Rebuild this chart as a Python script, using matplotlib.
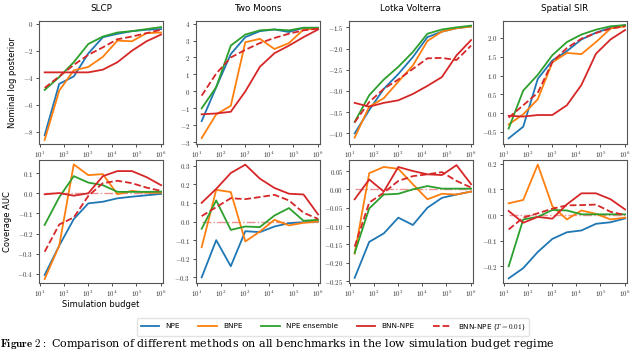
import numpy as np
import matplotlib
matplotlib.use('Agg')
import matplotlib.pyplot as plt
from matplotlib.ticker import FuncFormatter, FixedLocator

plt.rcParams['mathtext.fontset'] = 'cm'
plt.rcParams['font.family'] = 'DejaVu Sans'

# simulation budgets (one point per budget)
budgets = [16, 64, 256, 1024, 4096, 16384, 65536, 262144, 1048576]

benchmarks = ['SLCP', 'Two Moons', 'Lotka Volterra', 'Spatial SIR']
methods = ['NPE', 'BNPE', 'NPE ensemble', 'BNN-NPE', 'BNN-NPE ($T = 0.01$)']

# nominal log posterior, per benchmark
slcp_logp = {
    'NPE':          [-8.25, -4.45, -3.9, -2.2, -1.0, -0.75, -0.55, -0.45, -0.4],
    'BNPE':         [-8.6, -4.95, -3.45, -3.2, -2.45, -1.25, -1.3, -0.7, -0.65],
    'NPE ensemble': [-4.9, -3.95, -2.85, -1.5, -0.95, -0.65, -0.55, -0.4, -0.25],
    'BNN-NPE':      [-3.6, -3.6, -3.6, -3.6, -3.4, -2.85, -2.0, -1.3, -0.8],
    'BNN-NPE T':    [-4.75, -3.9, -3.05, -2.3, -1.75, -1.15, -0.95, -0.7, -0.45],
}
moons_logp = {
    'NPE':          [-1.75, 0.25, 2.2, 3.2, 3.55, 3.65, 3.5, 3.75, 3.75],
    'BNPE':         [-2.75, -1.35, -0.85, 2.9, 3.1, 2.5, 2.85, 3.65, 3.7],
    'NPE ensemble': [-1.0, 0.25, 2.7, 3.35, 3.6, 3.65, 3.6, 3.75, 3.75],
    'BNN-NPE':      [-1.35, -1.3, -1.2, 0.0, 1.45, 2.25, 2.7, 3.2, 3.65],
    'BNN-NPE T':    [-0.25, 1.05, 2.0, 2.45, 2.85, 3.15, 3.4, 3.6, 3.7],
}
lotka_logp = {
    'NPE':          [-4.0, -3.45, -2.95, -2.6, -2.2, -1.73, -1.6, -1.52, -1.48],
    'BNPE':         [-4.1, -3.37, -3.17, -2.78, -2.4, -1.82, -1.6, -1.52, -1.48],
    'NPE ensemble': [-3.73, -3.1, -2.73, -2.43, -2.08, -1.65, -1.55, -1.5, -1.46],
    'BNN-NPE':      [-3.28, -3.37, -3.28, -3.22, -3.07, -2.88, -2.67, -2.16, -1.8],
    'BNN-NPE T':    [-3.74, -3.26, -2.95, -2.73, -2.48, -2.23, -2.22, -2.27, -1.93],
}
sir_logp = {
    'NPE':          [-0.67, -0.36, 0.91, 1.4, 1.65, 1.96, 2.14, 2.27, 2.34],
    'BNPE':         [-0.3, -0.03, 0.37, 1.35, 1.6, 1.57, 1.89, 2.25, 2.31],
    'NPE ensemble': [-0.41, 0.6, 1.02, 1.54, 1.89, 2.09, 2.22, 2.31, 2.34],
    'BNN-NPE':      [-0.07, -0.09, -0.05, -0.05, 0.21, 0.75, 1.58, 1.96, 2.21],
    'BNN-NPE T':    [-0.12, 0.21, 0.54, 1.36, 1.73, 1.98, 2.13, 2.25, 2.31],
}

# coverage AUC, per benchmark
slcp_auc = {
    'NPE':          [-0.405, -0.26, -0.128, -0.05, -0.042, -0.025, -0.017, -0.01, -0.003],
    'BNPE':         [-0.425, -0.26, 0.143, 0.09, 0.095, -0.005, 0.012, 0.003, 0.003],
    'NPE ensemble': [-0.157, -0.02, 0.085, 0.053, 0.04, 0.007, 0.007, 0.007, 0.008],
    'BNN-NPE':      [-0.005, 0.001, -0.012, 0.0, 0.085, 0.11, 0.11, 0.08, 0.04],
    'BNN-NPE T':    [-0.29, -0.155, -0.12, -0.013, 0.05, 0.062, 0.05, 0.028, 0.012],
}
moons_auc = {
    'NPE':          [-0.3, -0.1, -0.24, -0.052, -0.057, -0.027, -0.009, -0.004, 0.0],
    'BNPE':         [-0.138, 0.17, 0.158, -0.107, -0.054, 0.009, -0.021, -0.007, 0.0],
    'NPE ensemble': [-0.039, 0.113, -0.045, -0.027, -0.03, 0.032, 0.072, 0.004, 0.009],
    'BNN-NPE':      [0.1, 0.175, 0.26, 0.305, 0.23, 0.18, 0.149, 0.145, 0.038],
    'BNN-NPE T':    [0.029, 0.077, 0.125, 0.12, 0.131, 0.143, 0.113, 0.047, 0.014],
}
lotka_auc = {
    'NPE':          [-0.241, -0.143, -0.12, -0.077, -0.097, -0.05, -0.023, -0.014, -0.006],
    'BNPE':         [-0.175, 0.044, 0.061, 0.056, 0.014, -0.027, -0.012, -0.014, -0.006],
    'NPE ensemble': [-0.173, -0.052, -0.014, -0.012, 0.0, 0.009, 0.002, 0.002, 0.002],
    'BNN-NPE':      [-0.027, 0.027, -0.006, 0.061, 0.05, 0.041, 0.039, 0.066, 0.014],
    'BNN-NPE T':    [-0.156, -0.036, -0.009, 0.023, 0.036, 0.041, 0.047, 0.023, 0.005],
}
sir_auc = {
    'NPE':          [-0.247, -0.207, -0.144, -0.093, -0.067, -0.06, -0.034, -0.028, -0.013],
    'BNPE':         [0.046, 0.059, 0.197, 0.035, -0.017, 0.018, 0.005, -0.017, -0.01],
    'NPE ensemble': [-0.2, -0.017, -0.007, 0.02, 0.018, 0.003, 0.003, 0.003, 0.003],
    'BNN-NPE':      [0.016, -0.03, -0.007, -0.014, 0.042, 0.085, 0.085, 0.062, 0.022],
    'BNN-NPE T':    [-0.056, -0.01, 0.007, 0.025, 0.038, 0.039, 0.041, 0.013, 0.0],
}

logp_all = [slcp_logp, moons_logp, lotka_logp, sir_logp]
auc_all = [slcp_auc, moons_auc, lotka_auc, sir_auc]

logp_ylims = [(-8.9, 0.2), (-3.1, 4.15), (-4.25, -1.35), (-0.82, 2.45)]
logp_yticks = [[-8, -6, -4, -2, 0], [-3, -2, -1, 0, 1, 2, 3, 4],
               [-4.0, -3.5, -3.0, -2.5, -2.0, -1.5], [-0.5, 0.0, 0.5, 1.0, 1.5, 2.0]]
auc_ylims = [(-0.445, 0.165), (-0.33, 0.33), (-0.255, 0.08), (-0.265, 0.215)]
auc_yticks = [[-0.4, -0.3, -0.2, -0.1, 0.0, 0.1], [-0.3, -0.2, -0.1, 0.0, 0.1, 0.2, 0.3],
              [-0.25, -0.2, -0.15, -0.1, -0.05, 0.0, 0.05], [-0.2, -0.1, 0.0, 0.1, 0.2]]

styles = {
    'NPE':          dict(color='tab:blue', ls='-'),
    'BNPE':         dict(color='tab:orange', ls='-'),
    'NPE ensemble': dict(color='tab:green', ls='-'),
    'BNN-NPE':      dict(color='tab:red', ls='-'),
    'BNN-NPE T':    dict(color='tab:red', ls='--'),
}
keys = ['NPE', 'BNPE', 'NPE ensemble', 'BNN-NPE', 'BNN-NPE T']

fig = plt.figure(figsize=(6.4, 3.52), dpi=100)

lefts = [39, 196, 349, 503]
W, H = 640.0, 352.0


def fmt_lin(decimals):
    def f(v, pos):
        return f'${v:.{decimals}f}$'
    return FuncFormatter(f)


def style_axes(ax):
    ax.set_xscale('log')
    ax.set_xlim(10 ** 0.97, 10 ** 6.1)
    ax.xaxis.set_major_locator(FixedLocator([10, 100, 1e3, 1e4, 1e5, 1e6]))
    ax.xaxis.set_major_formatter(FuncFormatter(lambda v, p: r'$10^{%d}$' % round(np.log10(v))))
    ax.tick_params(labelsize=5, length=2.5, width=0.6, pad=1.5, colors='#333333')
    ax.tick_params(which='minor', length=1.5, width=0.4)
    for sp in ax.spines.values():
        sp.set_color('#555555')
        sp.set_linewidth(0.8)


handles = []
for col in range(4):
    # top row: nominal log posterior
    ax = fig.add_axes([lefts[col] / W, 1 - 144 / H, 124 / W, 123 / H])
    for k in keys:
        l, = ax.plot(budgets, logp_all[col][k], lw=1.3, **styles[k])
        if col == 0:
            handles.append(l)
    style_axes(ax)
    ax.set_ylim(*logp_ylims[col])
    ax.set_yticks(logp_yticks[col])
    ax.yaxis.set_major_formatter(fmt_lin(1 if col >= 2 else 0))
    ax.set_title(benchmarks[col], fontsize=6.3, pad=7)
    if col == 0:
        ax.set_ylabel('Nominal log posterior', fontsize=6)

    # bottom row: coverage AUC
    ax = fig.add_axes([lefts[col] / W, 1 - 283 / H, 124 / W, 123 / H])
    ax.plot([budgets[0], budgets[-1]], [0, 0], color='tab:red', lw=1.0, ls='-.', alpha=0.5)
    for k in keys:
        ax.plot(budgets, auc_all[col][k], lw=1.3, **styles[k])
    style_axes(ax)
    ax.set_ylim(*auc_ylims[col])
    ax.set_yticks(auc_yticks[col])
    ax.yaxis.set_major_formatter(fmt_lin(2 if col == 2 else 1))
    if col == 0:
        ax.set_ylabel('Coverage AUC', fontsize=6)
        ax.set_xlabel('Simulation budget', fontsize=6, labelpad=1)

fig.legend(handles, methods, loc='center', bbox_to_anchor=(0.52, 1 - 327 / H),
           ncol=5, fontsize=5.2, frameon=True, handlelength=2.6, columnspacing=2.6,
           edgecolor='#dddddd', borderpad=0.5)

fig.text(0.0, 0.004, r'$\mathbf{Figure\ 2:}$ Comparison of different methods on all benchmarks in the low simulation budget regime',
         fontsize=8, family='DejaVu Serif', va='bottom', ha='left')

fig.savefig('out.png', dpi=100)
